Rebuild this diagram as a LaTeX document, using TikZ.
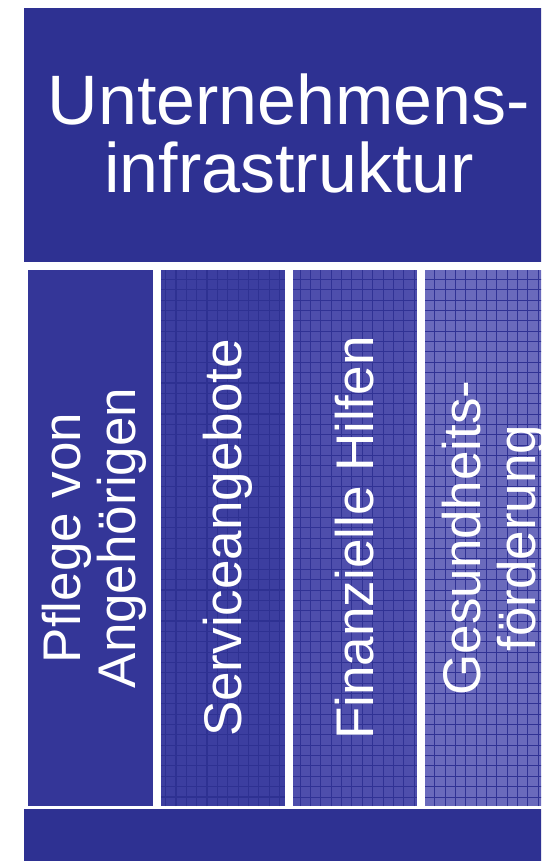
\documentclass[tikz,border=0pt]{standalone}
\usepackage{fontspec}
\setmainfont{Liberation Sans}
\definecolor{navy}{RGB}{46,49,146}
\definecolor{colA}{RGB}{52,54,152}
\definecolor{colB}{RGB}{60,62,160}
\definecolor{colC}{RGB}{78,78,172}
\definecolor{colD}{RGB}{106,106,188}
\definecolor{gridline}{RGB}{48,50,148}
\begin{document}
\begin{tikzpicture}[x=1pt,y=-1pt,
  titletext/.style={text=white, font=\fontsize{70}{68}\selectfont, anchor=base, inner sep=0pt},
  coltext/.style={text=white, font=\fontsize{53}{55}\selectfont, anchor=base, rotate=90, inner sep=0pt},
  gridstyle/.style={draw=gridline, line width=0.9pt, step=10.35pt}]
\useasboundingbox (0,0) rectangle (541,861);
\clip (0,0) rectangle (541,861);
\fill[white] (0,0) rectangle (541,861);
% top block
\fill[navy] (24,8) rectangle (549,262);
% columns
\fill[colA] (28,270) rectangle (153,806);
\fill[colB] (161,270) rectangle (285,806);
\begin{scope}
  \clip (161,270) rectangle (285,806);
  \draw[gridstyle, draw=navy, line width=1.1pt] (161,270) grid (285,806);
\end{scope}
\fill[colC] (293,270) rectangle (417,806);
\begin{scope}
  \clip (293,270) rectangle (417,806);
  \draw[gridstyle] (293,270) grid (417,806);
\end{scope}
\fill[colD] (425,270) rectangle (549,806);
\begin{scope}
  \clip (425,270) rectangle (549,806);
  \draw[gridstyle] (425,270) grid (549,806);
\end{scope}
% bottom bar
\fill[navy] (24,809) rectangle (549,861);
% texts
\node[titletext] (t1) at (289,125) {Unternehmens-};
\node[titletext] (t2) at (289,193) {infrastruktur};
\node[coltext] (c1a) at (80,538) {Pflege von};
\node[coltext] (c1b) at (135,538) {Angehörigen};
\node[coltext] (c2) at (241,538) {Serviceangebote};
\node[coltext] (c3) at (373,538) {Finanzielle Hilfen};
\node[coltext] (c4a) at (480,538) {Gesundheits-};
\node[coltext] (c4b) at (535,538) {förderung};
\end{tikzpicture}
\end{document}
